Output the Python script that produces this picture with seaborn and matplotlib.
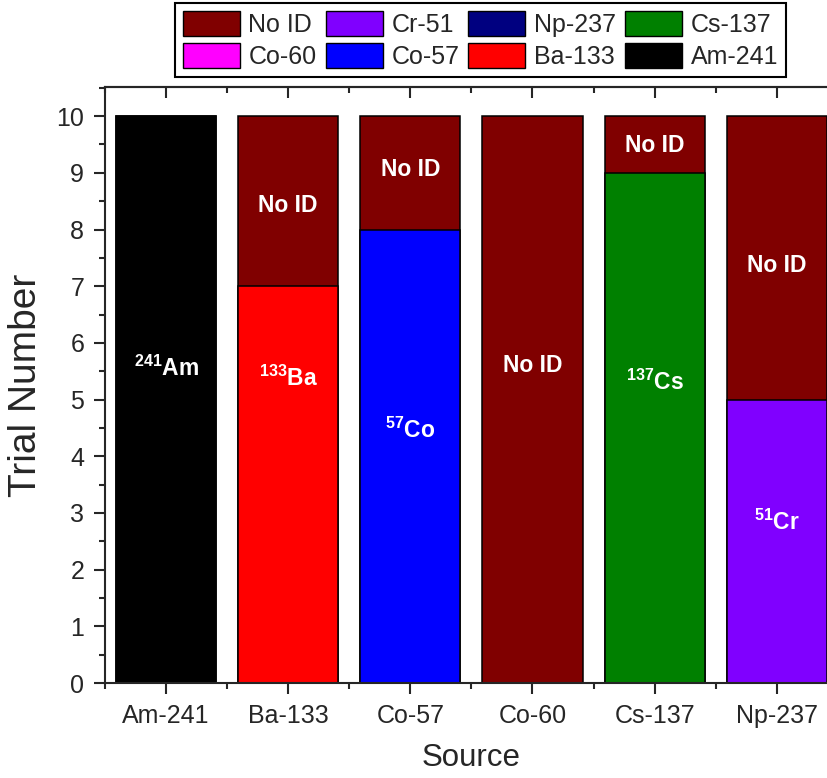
import matplotlib
matplotlib.use("Agg")
from matplotlib import pyplot as plt
from matplotlib.patches import Patch
from matplotlib.ticker import MultipleLocator
import pandas as pd
import seaborn as sns

# data
sources = ["Am-241", "Ba-133", "Co-57", "Co-60", "Cs-137", "Np-237"]
identified_as = ["Am-241", "Ba-133", "Co-57", "Co-60", "Cs-137", "Cr-51"]
id_counts = [10, 7, 8, 0, 9, 5]
no_id_counts = [0, 3, 2, 10, 1, 5]

iso_colors = {
    "No ID": "#800000",
    "Cr-51": "#8000FF",
    "Np-237": "#000080",
    "Cs-137": "#008000",
    "Co-60": "#FF00FF",
    "Co-57": "#0000FF",
    "Ba-133": "#FF0000",
    "Am-241": "#000000",
}
legend_order = ["No ID", "Co-60", "Cr-51", "Co-57", "Np-237", "Ba-133", "Cs-137", "Am-241"]

# in-bar annotations (text, y position)
id_labels = [r"$^{241}$Am", r"$^{133}$Ba", r"$^{57}$Co", "No ID", r"$^{137}$Cs", r"$^{51}$Cr"]
id_label_y = [5.55, 5.38, 4.46, 5.6, 5.3, 2.84]
noid_label_y = [None, 8.43, 9.05, None, 9.49, 7.37]

sns.set_style("ticks")
plt.rcParams["font.family"] = ["Liberation Sans", "DejaVu Sans"]
plt.rcParams["mathtext.fontset"] = "custom"
plt.rcParams["mathtext.rm"] = "Liberation Sans:bold"
plt.rcParams["mathtext.bf"] = "Liberation Sans:bold"
plt.rcParams["mathtext.default"] = "bf"

df_total = pd.DataFrame({"Source": sources,
                         "Count": [a + b for a, b in zip(id_counts, no_id_counts)]})
df_id = pd.DataFrame({"Source": sources, "Isotope": identified_as, "Count": id_counts})

fig = plt.figure(figsize=(8.28, 7.78), dpi=100)
ax = fig.add_axes([0.1268, 0.1221, 0.885, 0.7665])

# No ID part sits behind as the full stack
sns.barplot(data=df_total, x="Source", y="Count", color=iso_colors["No ID"],
            edgecolor="black", linewidth=1.1, width=0.82, saturation=1, ax=ax)
sns.barplot(data=df_id, x="Source", y="Count", hue="Isotope", palette=iso_colors,
            dodge=False, edgecolor="black", linewidth=1.1, width=0.82, saturation=1,
            legend=False, ax=ax)

for i in range(len(sources)):
    ax.text(i, id_label_y[i], id_labels[i], color="white", fontsize=16.5,
            fontweight="bold", ha="center", va="center")
    if noid_label_y[i] is not None:
        ax.text(i, noid_label_y[i], "No ID", color="white", fontsize=16.5,
                fontweight="bold", ha="center", va="center")

ax.set_xlim(-0.5, 5.5)
ax.set_ylim(0, 10.52)
ax.yaxis.set_major_locator(MultipleLocator(1))
ax.yaxis.set_minor_locator(MultipleLocator(0.5))
ax.set_xticks(range(len(sources)))
ax.set_xticks([x + 0.5 for x in range(-1, len(sources))], minor=True)

for s in ax.spines.values():
    s.set_linewidth(1.5)
ax.tick_params(which="major", length=8, width=1.5, labelsize=18, pad=7)
ax.tick_params(which="minor", length=4, width=1.5)

top = ax.secondary_xaxis("top")
top.set_xticks(range(len(sources)))
top.set_xticks([x + 0.5 for x in range(-1, len(sources))], minor=True)
top.tick_params(which="major", direction="in", length=8, width=1.5, labeltop=False)
top.tick_params(which="minor", direction="in", length=4, width=1.5)
top.spines["top"].set_linewidth(1.5)

ax.set_xlabel("Source", fontsize=22.5, labelpad=11)
ax.set_ylabel("Trial Number", fontsize=28, labelpad=9)

handles = [Patch(facecolor=iso_colors[k], edgecolor="black", linewidth=1, label=k)
           for k in legend_order]
leg = fig.legend(handles=handles, ncol=4, loc="upper center", bbox_to_anchor=(0.5803, 0.996),
                 fontsize=18, frameon=True, fancybox=False, edgecolor="black",
                 framealpha=1, handlelength=2.28, handleheight=1.2, handletextpad=0.35,
                 columnspacing=0.36, labelspacing=0.24, borderpad=0.3, borderaxespad=0)
leg.get_frame().set_linewidth(1.5)

fig.savefig("out.png", dpi=100)
